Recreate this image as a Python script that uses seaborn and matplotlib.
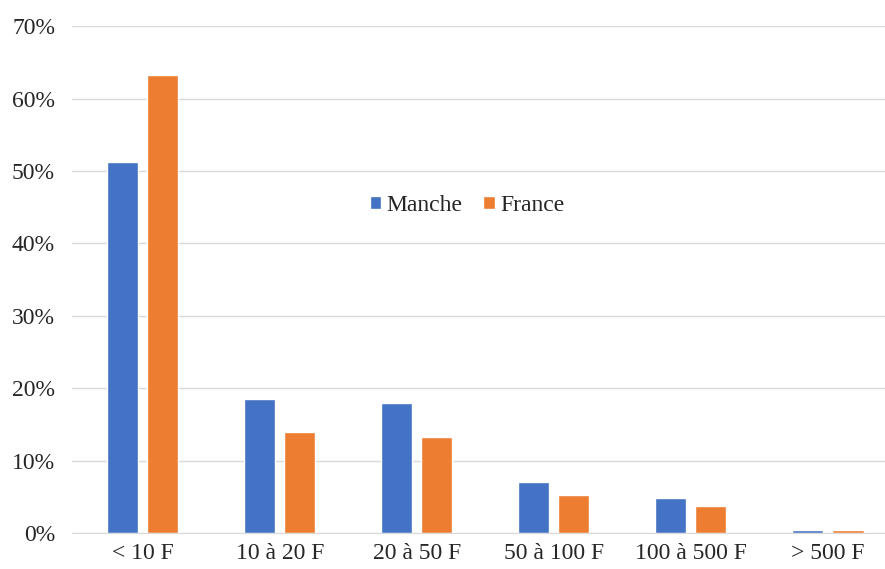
import numpy as np
import pandas as pd
import matplotlib
matplotlib.use("Agg")
import matplotlib.pyplot as plt
import seaborn as sns
from matplotlib.ticker import PercentFormatter

categories = ["< 10 F", "10 à 20 F", "20 à 50 F", "50 à 100 F", "100 à 500 F", "> 500 F"]
manche = [51.3, 18.5, 18.0, 7.0, 4.8, 0.5]
france = [63.2, 14.0, 13.3, 5.2, 3.8, 0.5]
series = ["Manche", "France"]
colors = ["#4472C4", "#ED7D31"]

df = pd.DataFrame({
    "cat": categories * 2,
    "serie": ["Manche"] * len(categories) + ["France"] * len(categories),
    "val": np.array(manche + france) / 100,
})

sns.set_style("white")
plt.rcParams["font.family"] = ["Liberation Serif", "DejaVu Serif"]

fig = plt.figure(figsize=(8.85, 5.69), dpi=100)
ax = fig.add_axes([0.081, 0.063, 0.919, 0.891])

sns.barplot(data=df, x="cat", y="val", hue="serie", order=categories,
            hue_order=series, palette=colors, width=0.584, gap=0.225,
            saturation=1, ax=ax)

ax.set_ylim(0, 0.7)
ax.set_xlim(-0.518, 5.416)
ax.set_yticks(np.arange(0, 0.71, 0.1))
ax.yaxis.set_major_formatter(PercentFormatter(1.0, decimals=0))
ax.grid(axis="y", color="#d9d9d9", linewidth=1)
ax.set_axisbelow(True)
for s in ["top", "right", "left"]:
    ax.spines[s].set_visible(False)
ax.spines["bottom"].set_color("#d9d9d9")
ax.tick_params(axis="both", length=0, labelsize=17, colors="#262626")
ax.tick_params(axis="y", pad=12)
ax.tick_params(axis="x", pad=7)
ax.set_xlabel("")
ax.set_ylabel("")

ax.legend(loc="center", bbox_to_anchor=(0.486, 0.647), ncol=2, frameon=False,
          fontsize=17, handlelength=0.5, handleheight=0.5, handletextpad=0.2,
          columnspacing=0.9, labelcolor="#262626")

fig.savefig("out.png", dpi=100)
